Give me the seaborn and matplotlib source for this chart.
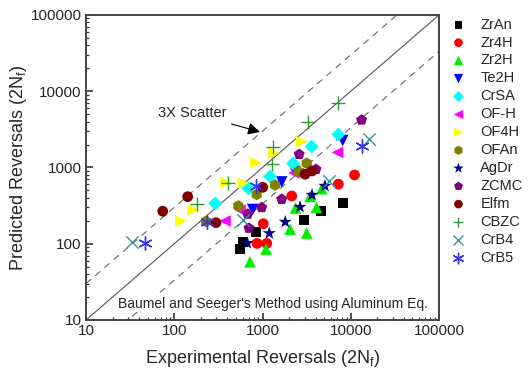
import numpy as np
import pandas as pd
import matplotlib
matplotlib.use("Agg")
import matplotlib.pyplot as plt
import seaborn as sns

# Experimental (x) vs predicted (y) reversals per material
zran_x = [556, 605, 843, 2980, 4560, 8240]
zran_y = [85, 106, 144, 207, 271, 339]
zr4h_x = [867, 1117, 1021, 2143, 7230, 11040]
zr4h_y = [101, 101, 183, 423, 604, 798]
zr2h_x = [721, 1097, 2051, 3170, 2366, 4090, 3450, 4690]
zr2h_y = [58, 85, 155, 138, 294, 299, 417, 526]
te2h_x = [774, 1650, 2330, 8110]
te2h_y = [281, 646, 887, 2260]
crsa_x = [290, 690, 1217, 2218, 3605, 7230]
crsa_y = [339, 533, 762, 1128, 1884, 2710]
ofh_x = [376, 556, 2275, 7080]
ofh_y = [199, 277, 847, 1575]
of4h_x = [119, 164, 386, 601, 843, 1349, 2780]
of4h_y = [199, 277, 632, 626, 1156, 1549, 2178]
ofan_x = [229, 532, 859, 1387, 2560, 3170]
ofan_y = [196, 313, 443, 589, 881, 1135]
agdr_x = [673, 1194, 1811, 2660, 3640, 5100]
agdr_y = [102, 137, 193, 303, 436, 572]
zcmc_x = [679, 703, 979, 1650, 2607, 4036, 13250]
zcmc_y = [245, 160, 299, 383, 1489, 946, 4200]
elfm_x = [74, 142, 297, 1005, 3033, 3640]
elfm_y = [267, 414, 189, 550, 815, 900]
cbzc_x = [180, 409, 1270, 1325, 3236, 7110]
cbzc_y = [329, 621, 1102, 1840, 3990, 7080]
crb4_x = [33, 605, 5680, 16220]
crb4_y = [104, 202, 665, 2390]
crb5_x = [46.6, 233, 834, 13250]
crb5_y = [102, 195, 572, 1915]

series = [
    ("ZrAn", zran_x, zran_y, "s", "black", 50),
    ("Zr4H", zr4h_x, zr4h_y, "o", "#ff0000", 60),
    ("Zr2H", zr2h_x, zr2h_y, "^", "#00ee00", 70),
    ("Te2H", te2h_x, te2h_y, "v", "#0000ff", 70),
    ("CrSA", crsa_x, crsa_y, "D", "#00ffff", 50),
    ("OF-H", ofh_x, ofh_y, "<", "#ff00ff", 70),
    ("OF4H", of4h_x, of4h_y, ">", "#ffff00", 70),
    ("OFAn", ofan_x, ofan_y, "h", "#808000", 70),
    ("AgDr", agdr_x, agdr_y, "*", "#000080", 100),
    ("ZCMC", zcmc_x, zcmc_y, "p", "#800080", 70),
    ("Elfm", elfm_x, elfm_y, "o", "#800000", 60),
    ("CBZC", cbzc_x, cbzc_y, "+", "#339933", 90),
    ("CrB4", crb4_x, crb4_y, "x", "#339999", 80),
    ("CrB5", crb5_x, crb5_y, (6, 2, 0), "#3333ee", 90),
]

sns.set_style("white")
plt.rcParams['font.family'] = ['Liberation Sans', 'DejaVu Sans']
plt.rcParams['mathtext.default'] = 'regular'

fig = plt.figure(figsize=(5.3, 3.75), dpi=100)
ax = fig.add_axes([0.1623, 0.1467, 0.666, 0.8133])

lims = np.array([10, 100000])
ax.plot(lims, lims, color="#555555", lw=0.8, zorder=1)
ax.plot(lims, lims * 3, color="#666666", lw=0.8, ls=(0, (6, 5)), zorder=1)
ax.plot(lims, lims / 3, color="#666666", lw=0.8, ls=(0, (6, 5)), zorder=1)

for name, xs, ys, mk, col, size in series:
    df = pd.DataFrame({"x": xs, "y": ys})
    if mk in ("+", "x") or isinstance(mk, tuple):
        sns.scatterplot(data=df, x="x", y="y", marker=mk, color=col, s=size,
                        linewidth=1.0, label=name, ax=ax, zorder=3)
    else:
        sns.scatterplot(data=df, x="x", y="y", marker=mk, color=col, s=size,
                        edgecolor="none", label=name, ax=ax, zorder=3)

ax.set_xscale("log")
ax.set_yscale("log")
ax.set_xlim(10, 100000)
ax.set_ylim(10, 100000)
ticks = [10, 100, 1000, 10000, 100000]
ax.set_xticks(ticks)
ax.set_xticklabels([str(t) for t in ticks])
ax.set_yticks(ticks)
ax.set_yticklabels([str(t) for t in ticks])
ax.tick_params(which="major", direction="in", length=5, width=1.2, labelsize=11,
               color="#333333", pad=3)
ax.tick_params(which="minor", direction="in", length=2.5, width=0.9, color="#333333")
ax.tick_params(left=True, bottom=True, which="both")
for sp in ax.spines.values():
    sp.set_color("#444444")
    sp.set_linewidth(1.4)

ax.set_xlabel("Experimental Reversals (2N$_{f}$)", fontsize=13, labelpad=7)
ax.set_ylabel("Predicted Reversals (2N$_{f}$)", fontsize=13, labelpad=1)

ax.annotate("3X Scatter", xy=(937, 2925), xytext=(159, 5190), fontsize=10.5,
            ha="center", va="center",
            arrowprops=dict(arrowstyle="-|>", color="black", lw=0.8,
                            mutation_scale=18, shrinkA=2, shrinkB=0))
ax.text(75000, 16.2, "Baumel and Seeger's Method using Aluminum Eq.", fontsize=10,
        ha="right", va="center", zorder=4,
        bbox=dict(facecolor="white", edgecolor="none", pad=1))

ax.legend(loc="upper left", bbox_to_anchor=(0.985, 1.025), frameon=False, fontsize=10.5,
          labelspacing=0.27, handletextpad=0.5, borderaxespad=0.3, markerscale=0.8)

fig.savefig("out.png", dpi=100)
